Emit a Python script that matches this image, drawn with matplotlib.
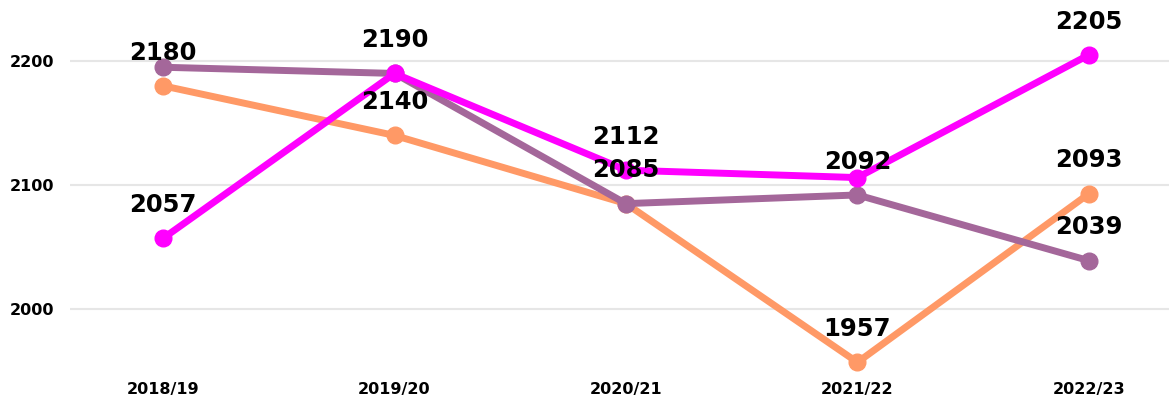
import matplotlib
matplotlib.use("Agg")
import matplotlib.pyplot as plt

categories = ["2018/19", "2019/20", "2020/21", "2021/22", "2022/23"]
orange_vals = [2180, 2140, 2085, 1957, 2093]
purple_vals = [2195, 2190, 2085, 2092, 2039]
magenta_vals = [2057, 2190, 2112, 2106, 2205]
yticks = [2000, 2100, 2200]

# which points carry a visible value label in the reference
orange_labels = [True, True, True, True, True]
purple_labels = [False, False, False, True, True]
magenta_labels = [True, True, True, False, True]

fig = plt.figure(figsize=(11.69, 4.0), dpi=100)
ax = fig.add_axes([70 / 1169, 1 - 372 / 400, 1 - 70 / 1169, (372 - 5) / 400])

x = list(range(len(categories)))
series = [
    (orange_vals, "#FF9966", orange_labels, 2),
    (purple_vals, "#A4679A", purple_labels, 3),
    (magenta_vals, "#FF00FF", magenta_labels, 4),
]
for vals, col, labs, z in series:
    ax.plot(x, vals, color=col, linewidth=5, marker="o", markersize=12,
            solid_capstyle="round", zorder=z)
for vals, col, labs, z in series:
    for xi, v, show in zip(x, vals, labs):
        if show:
            ax.annotate(str(v), (xi, v), xytext=(0, 24), textcoords="offset points",
                        ha="center", va="center", fontsize=17.5, fontweight="bold",
                        color="black", zorder=10)

ax.set_xlim(-0.402, 4.346)
ax.set_ylim(1949.2, 2245.2)
ax.set_yticks(yticks)
ax.set_yticklabels([str(t) for t in yticks], fontsize=11.5, fontweight="bold")
ax.set_xticks(x)
ax.set_xticklabels(categories, fontsize=11.5, fontweight="bold")
ax.tick_params(axis="y", length=0, pad=11)
ax.tick_params(axis="x", length=0, pad=7)
ax.grid(axis="y", color="#e6e6e6", linewidth=1.5, zorder=0)
ax.set_axisbelow(True)
for s in ax.spines.values():
    s.set_visible(False)

fig.savefig("out.png", dpi=100)
